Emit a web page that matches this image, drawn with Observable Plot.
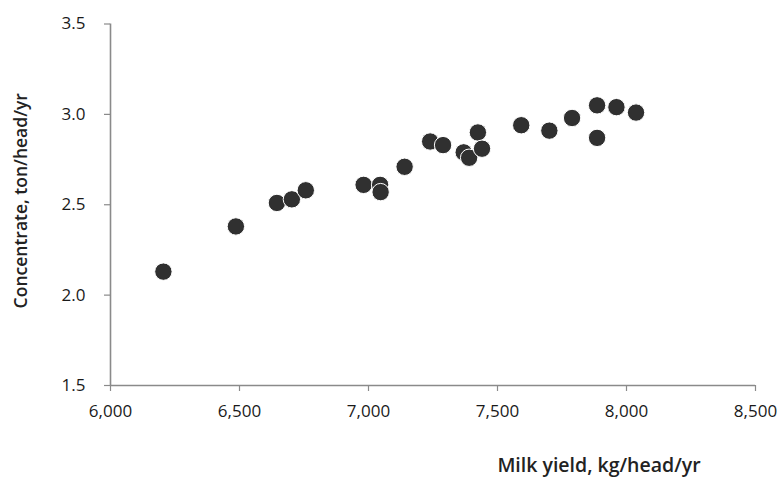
<!DOCTYPE html>
<html>
<head>
<meta charset="utf-8">
<script src="https://cdn.jsdelivr.net/npm/d3@7"></script>
<script src="https://cdn.jsdelivr.net/npm/@observablehq/plot@0.6"></script>
<style>
  html, body { margin: 0; padding: 0; background: #fff; }
  #chart svg { display: block; }
</style>
</head>
<body>
<div id="chart"></div>
<script>
// Milk yield (kg/head/yr)
const milkYield = [6205, 6486, 6645, 6703, 6757, 6981, 7045, 7047, 7140, 7239, 7289,
                   7369, 7390, 7424, 7440, 7592, 7701, 7789, 7886, 7886, 7961, 8037];
// Concentrate (ton/head/yr)
const concentrate = [2.13, 2.38, 2.51, 2.53, 2.58, 2.61, 2.61, 2.57, 2.71, 2.85, 2.83,
                     2.79, 2.76, 2.90, 2.81, 2.94, 2.91, 2.98, 3.05, 2.87, 3.04, 3.01];
const xTicks = [6000, 6500, 7000, 7500, 8000, 8500];
const yTicks = [1.5, 2.0, 2.5, 3.0, 3.5];
const xTitle = "Milk yield, kg/head/yr";
const yTitle = "Concentrate, ton/head/yr";

const data = milkYield.map((x, i) => ({x, y: concentrate[i]}));

const chart = Plot.plot({
  width: 780,
  height: 477,
  marginLeft: 110,
  marginRight: 25,
  marginTop: 23.5,
  marginBottom: 92,
  style: {fontFamily: "'Open Sans', sans-serif", fontSize: "17px", color: "#222", background: "#fff"},
  x: {domain: [6000, 8500]},
  y: {domain: [1.5, 3.5]},
  marks: [
    Plot.ruleY([1.5], {stroke: "#8a8a8a", strokeWidth: 1.6}),
    Plot.ruleX([6000], {stroke: "#8a8a8a", strokeWidth: 1.6}),
    Plot.axisY({ticks: yTicks, tickFormat: d3.format(".1f"), tickSize: 6, tickPadding: 19,
                stroke: "#8a8a8a", strokeWidth: 1.2, fill: "#1a1a1a", label: null}),
    Plot.axisX({ticks: xTicks, tickFormat: d3.format(","), tickSize: 6, tickPadding: 13,
                stroke: "#8a8a8a", strokeWidth: 1.2, fill: "#1a1a1a", label: null}),
    Plot.dot(data, {x: "x", y: "y", r: 8.7, fill: "#303030", stroke: "#fff", strokeWidth: 1}),
    Plot.text([yTitle], {frameAnchor: "left", rotate: -90, textAnchor: "middle", lineAnchor: "middle",
                         dx: -89.5, dy: -4, fill: "#222", fontSize: 17.5, fontWeight: 600}),
    Plot.text([xTitle], {frameAnchor: "bottom", textAnchor: "middle", lineAnchor: "middle",
                         dx: 166, dy: 80.5, fill: "#222", fontSize: 19.5, fontWeight: 600})
  ]
});
document.getElementById("chart").appendChild(chart);
</script>
</body>
</html>
